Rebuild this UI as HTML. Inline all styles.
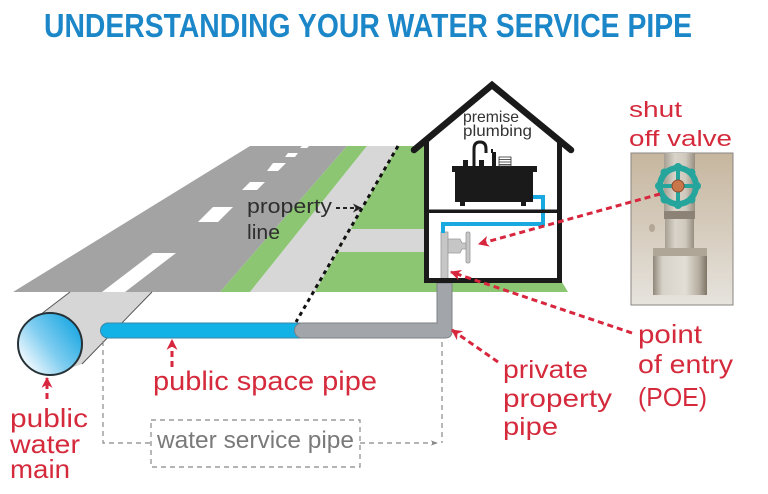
<!DOCTYPE html>
<html><head><meta charset="utf-8">
<style>
html,body{margin:0;padding:0;background:#fff;}
svg{display:block;}
text{font-family:"Liberation Sans",sans-serif;}
</style></head>
<body>
<svg width="768" height="494" viewBox="0 0 768 494" xmlns="http://www.w3.org/2000/svg">
<defs>
  <linearGradient id="mainG" x1="1" y1="0.15" x2="0.05" y2="0.85">
    <stop offset="0" stop-color="#0fa3e0"/>
    <stop offset="0.55" stop-color="#7fcdf0"/>
    <stop offset="1" stop-color="#ffffff"/>
  </linearGradient>
  <linearGradient id="photoBg" x1="0" y1="0" x2="0" y2="1">
    <stop offset="0" stop-color="#c6b69e"/>
    <stop offset="0.5" stop-color="#d6ccbd"/>
    <stop offset="1" stop-color="#e6e3dd"/>
  </linearGradient>
  <linearGradient id="pipeH" x1="0" y1="0" x2="1" y2="0">
    <stop offset="0" stop-color="#a79f92"/>
    <stop offset="0.35" stop-color="#d9d4ca"/>
    <stop offset="0.7" stop-color="#cfc9bd"/>
    <stop offset="1" stop-color="#978e80"/>
  </linearGradient>
  <linearGradient id="fitH" x1="0" y1="0" x2="1" y2="0">
    <stop offset="0" stop-color="#8f8679"/>
    <stop offset="0.18" stop-color="#d8d3ca"/>
    <stop offset="0.6" stop-color="#e2ded6"/>
    <stop offset="0.85" stop-color="#b5ad9f"/>
    <stop offset="1" stop-color="#7e7567"/>
  </linearGradient>
  <marker id="redHead" viewBox="0 0 10 10" refX="9" refY="5" markerWidth="11" markerHeight="11" markerUnits="userSpaceOnUse" orient="auto">
    <path d="M0,0 L10,5 L0,10 L3,5 Z" fill="#d7263d"/>
  </marker>
  <marker id="blkHead" viewBox="0 0 10 10" refX="9" refY="5" markerWidth="9" markerHeight="9" markerUnits="userSpaceOnUse" orient="auto">
    <path d="M0,0 L10,5 L0,10 L3,5 Z" fill="#222"/>
  </marker>
  <marker id="grayHead" viewBox="0 0 10 10" refX="9" refY="5" markerWidth="7" markerHeight="7" markerUnits="userSpaceOnUse" orient="auto">
    <path d="M0,1 L10,5 L0,9 L3,5 Z" fill="#888"/>
  </marker>
</defs>

<!-- Title -->
<text x="44" y="37" font-size="33" font-weight="bold" fill="#1b87c8" textLength="648" lengthAdjust="spacingAndGlyphs">UNDERSTANDING YOUR WATER SERVICE PIPE</text>

<!-- Ground -->
<polygon points="13,292 250,146 347,146 220,292" fill="#a3a3a3"/>
<polygon points="347,146 367,146 250,292 220,292" fill="#8cc673"/>
<polygon points="367,146 398,146 315,292 250,292" fill="#d7d7d7"/>
<polygon points="398,146 480,146 568,292 315,292" fill="#8cc673"/>
<polygon points="351,229 424,229 424,252 338,252" fill="#d7d7d7"/>

<!-- Road dashes -->
<g fill="#ffffff">
  <polygon points="102,292 125,292 176,253 153,253"/>
  <polygon points="198,222 218,222 233,207 213,207"/>
  <polygon points="242,190 257,190 265,182 250,182"/>
  <polygon points="267,171 278,171 286,163 273,163"/>
  <polygon points="285,157 295,157 298,153 288,153"/>
  <polygon points="300,148 307,148 309,146 302,146"/>
</g>

<!-- Tube to main -->
<polygon points="36,318 70,292 152,292 82,364 50,375" fill="#d6d6d6"/>
<line x1="36" y1="318" x2="70" y2="292" stroke="#555" stroke-width="1"/>
<line x1="82" y1="364" x2="152" y2="292" stroke="#555" stroke-width="1"/>
<ellipse cx="50" cy="344" rx="32" ry="31" fill="url(#mainG)" stroke="#263238" stroke-width="2"/>

<!-- Service pipe -->
<path d="M108,323 H300 V338 H108 A7.5,7.5 0 0 1 108,323 Z" fill="#12b1e6" stroke="#3a86a8" stroke-width="1"/>
<path d="M302,323 H437 V283 H452 V331 Q452,338 445,338 H302 A7.5,7.5 0 0 1 302,323 Z" fill="#a2a6aa" stroke="#7c8186" stroke-width="1"/>

<!-- Property dotted line -->
<line x1="398" y1="146" x2="296" y2="322" stroke="#111" stroke-width="3" stroke-dasharray="4 4"/>

<!-- House -->
<polygon points="424,140 492,86 562,140 562,283 424,283" fill="#ffffff"/>
<!-- inner valve pipe -->
<rect x="441" y="232" width="7" height="48" fill="#c6c6c6" stroke="#9a9a9a" stroke-width="0.8"/>
<path d="M448,239 H460 L462,243 H466 V249 H462 L460,253 H448 Z" fill="#c6c6c6" stroke="#9a9a9a" stroke-width="0.8"/>
<rect x="466" y="232" width="4" height="31" rx="1.5" fill="#c6c6c6" stroke="#9a9a9a" stroke-width="0.8"/>
<!-- inner blue pipe -->
<path d="M532,197 H543 V224 H443 V233" fill="none" stroke="#19a9e1" stroke-width="4"/>
<!-- sink -->
<rect x="452" y="166" width="85" height="6" fill="#1a1a1a"/>
<rect x="455" y="172" width="78" height="30" fill="#1a1a1a"/>
<rect x="460" y="201" width="5" height="5" fill="#1a1a1a"/>
<rect x="521" y="201" width="5" height="5" fill="#1a1a1a"/>
<path d="M474,166 V149 Q474,142 480,142 Q486,142 486,149 V153" fill="none" stroke="#1a1a1a" stroke-width="3"/>
<rect x="463" y="160" width="5" height="6" fill="#1a1a1a"/>
<rect x="479" y="160" width="5" height="6" fill="#1a1a1a"/>
<rect x="492" y="152" width="4" height="14" fill="#1a1a1a"/>
<rect x="491" y="149" width="2" height="4" fill="#1a1a1a"/>
<g fill="#fff" stroke="#333" stroke-width="0.8">
  <rect x="499" y="157" width="12" height="9"/>
</g>
<g stroke="#333" stroke-width="0.8">
  <line x1="499" y1="159.5" x2="511" y2="159.5"/>
  <line x1="499" y1="162" x2="511" y2="162"/>
  <line x1="499" y1="164.5" x2="511" y2="164.5"/>
</g>
<!-- walls -->
<rect x="424" y="139" width="5" height="144" fill="#1a1a1a"/>
<rect x="557" y="139" width="5" height="144" fill="#1a1a1a"/>
<rect x="424" y="278" width="138" height="5" fill="#1a1a1a"/>
<rect x="424" y="209.5" width="138" height="3.5" fill="#1a1a1a"/>
<polyline points="414,150 492,85 571,150" fill="none" stroke="#1a1a1a" stroke-width="6.5" stroke-linecap="round" stroke-linejoin="miter"/>

<text x="463" y="122" font-size="16" fill="#333" textLength="56" lengthAdjust="spacingAndGlyphs">premise</text>
<text x="463" y="136" font-size="16" fill="#333" textLength="69" lengthAdjust="spacingAndGlyphs">plumbing</text>

<!-- property line label -->
<text x="247" y="213" font-size="20" fill="#2e2e2e" textLength="85" lengthAdjust="spacingAndGlyphs">property</text>
<text x="247" y="239" font-size="20" fill="#2e2e2e" textLength="33" lengthAdjust="spacingAndGlyphs">line</text>
<line x1="336" y1="208" x2="361" y2="208" stroke="#222" stroke-width="2" stroke-dasharray="4 3" marker-end="url(#blkHead)"/>

<!-- Photo -->
<rect x="631" y="153" width="102" height="152" fill="url(#photoBg)" stroke="#8a8580" stroke-width="1"/>
<rect x="664" y="153" width="31" height="60" fill="url(#pipeH)"/>
<rect x="664" y="211" width="31" height="8" fill="#8c8376"/>
<rect x="665" y="219" width="29" height="32" fill="url(#pipeH)"/>
<rect x="653" y="248" width="54" height="47" fill="url(#fitH)"/>
<rect x="653" y="248" width="54" height="8" fill="#b0a698"/>
<ellipse cx="652" cy="228" rx="3" ry="4" fill="#9b8f7e" opacity="0.6"/>
<g fill="#26a59c">
  <circle cx="678" cy="186" r="18" fill="none" stroke="#26a59c" stroke-width="6"/>
  <circle cx="678" cy="167" r="4"/><circle cx="678" cy="205" r="4"/>
  <circle cx="659" cy="186" r="4"/><circle cx="697" cy="186" r="4"/>
  <circle cx="664.5" cy="172.5" r="4"/><circle cx="691.5" cy="172.5" r="4"/>
  <circle cx="664.5" cy="199.5" r="4"/><circle cx="691.5" cy="199.5" r="4"/>
</g>
<g stroke="#26a59c" stroke-width="4">
  <line x1="662" y1="186" x2="694" y2="186"/>
  <line x1="678" y1="170" x2="678" y2="202"/>
</g>
<circle cx="678" cy="186" r="6" fill="#c9774a" stroke="#8e4a2c" stroke-width="1"/>

<!-- Red arrows -->
<g stroke="#d7263d" stroke-width="3" stroke-dasharray="6 4" fill="none">
  <line x1="660" y1="194" x2="479" y2="244" marker-end="url(#redHead)"/>
  <line x1="632" y1="333" x2="451" y2="272" marker-end="url(#redHead)"/>
  <line x1="498" y1="362" x2="452" y2="330" marker-end="url(#redHead)"/>
  <line x1="172" y1="367" x2="172" y2="340" marker-end="url(#redHead)"/>
  <line x1="47" y1="399" x2="47" y2="378" marker-end="url(#redHead)"/>
</g>

<!-- Gray bracket -->
<g stroke="#888" stroke-width="1.2" stroke-dasharray="5 4" fill="none">
  <polyline points="103,341 103,443 151,443"/>
  <rect x="151" y="420" width="209" height="47"/>
  <line x1="442" y1="342" x2="442" y2="443"/>
  <line x1="360" y1="443" x2="437" y2="443" marker-end="url(#grayHead)"/>
</g>
<text x="157" y="448" font-size="24" fill="#7a7a7a" textLength="197" lengthAdjust="spacingAndGlyphs">water service pipe</text>

<!-- Red labels -->
<g fill="#d42a3c">
  <text x="629" y="117" font-size="22" textLength="53" lengthAdjust="spacingAndGlyphs">shut</text>
  <text x="629" y="146" font-size="22" textLength="103" lengthAdjust="spacingAndGlyphs">off valve</text>
  <text x="638" y="343" font-size="26" textLength="64" lengthAdjust="spacingAndGlyphs">point</text>
  <text x="638" y="373" font-size="26" textLength="95" lengthAdjust="spacingAndGlyphs">of entry</text>
  <text x="638" y="406" font-size="26" textLength="69" lengthAdjust="spacingAndGlyphs">(POE)</text>
  <text x="503" y="378" font-size="25" textLength="85" lengthAdjust="spacingAndGlyphs">private</text>
  <text x="503" y="407" font-size="25" textLength="109" lengthAdjust="spacingAndGlyphs">property</text>
  <text x="503" y="435" font-size="25" textLength="55" lengthAdjust="spacingAndGlyphs">pipe</text>
  <text x="153" y="390" font-size="27" textLength="224" lengthAdjust="spacingAndGlyphs">public space pipe</text>
  <text x="10" y="427" font-size="26" textLength="78" lengthAdjust="spacingAndGlyphs">public</text>
  <text x="10" y="453" font-size="26" textLength="70" lengthAdjust="spacingAndGlyphs">water</text>
  <text x="10" y="478" font-size="26" textLength="60" lengthAdjust="spacingAndGlyphs">main</text>
</g>
</svg>
</body></html>
